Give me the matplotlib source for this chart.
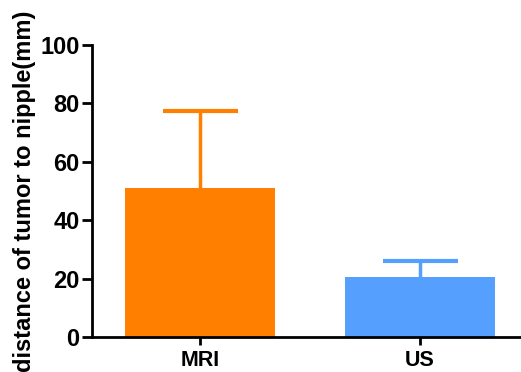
import matplotlib
matplotlib.use("Agg")
import matplotlib.pyplot as plt

categories = ["MRI", "US"]
means = [51, 20.5]
errors_up = [26.5, 5.5]
colors = ["#FF8000", "#55A0FF"]

plt.rcParams['font.family'] = ['Liberation Sans', 'DejaVu Sans']
plt.rcParams['font.weight'] = 'bold'

fig = plt.figure(figsize=(5.21, 3.72), dpi=100)
ax = fig.add_axes([92/521, (372-337)/372, (521-92)/521, (337-45)/372])

x = list(range(len(categories)))
for i in x:
    ax.bar(i, means[i], width=0.68, color=colors[i], zorder=2)
    eb = ax.errorbar(i, means[i], yerr=[[0], [errors_up[i]]], ecolor=colors[i],
                     elinewidth=2.5, capsize=27, capthick=3, fmt='none', zorder=1)
    caps = eb[1]
    if len(caps) == 2:
        caps[0].set_visible(False)

ax.set_xlim(-0.49, 1.46)
ax.set_ylim(0, 100)
ax.set_yticks([0, 20, 40, 60, 80, 100])
ax.set_xticks(x)
ax.set_xticklabels(categories, fontsize=15.5, fontweight='bold')
ax.tick_params(axis='y', labelsize=17, width=2, length=7, pad=2)
ax.tick_params(axis='x', width=2, length=6, pad=3)
for lbl in ax.get_yticklabels():
    lbl.set_fontweight('bold')
for s in ['top', 'right']:
    ax.spines[s].set_visible(False)
for s in ['left', 'bottom']:
    ax.spines[s].set_linewidth(2)
ax.set_ylabel("distance of tumor to nipple(mm)", fontsize=17, fontweight='bold', labelpad=3)

fig.savefig("out.png", dpi=100)
